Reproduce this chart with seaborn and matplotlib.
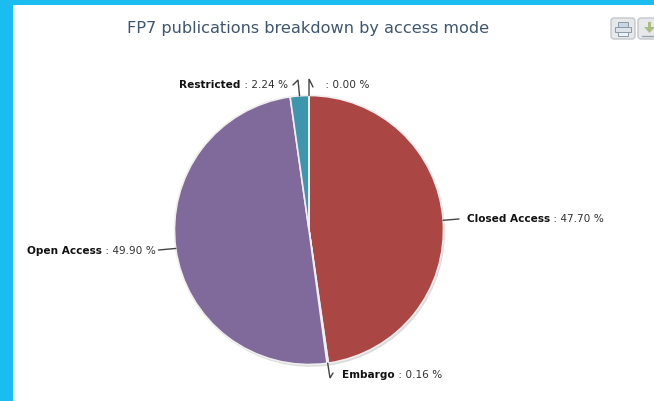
import numpy as np
import matplotlib
matplotlib.use("Agg")
import matplotlib.pyplot as plt
from matplotlib.patches import FancyBboxPatch, Rectangle, Shadow
import seaborn as sns

sns.set_theme(style="white")
plt.rcParams['font.family'] = ['DejaVu Sans']

# values, clockwise from 12 o'clock
categories = ['Closed Access', 'Embargo', 'Open Access', 'Restricted', '']
shares = [47.70, 0.16, 49.90, 2.24, 0.00]
slice_colors = ['#AA4643', '#4572A7', '#80699B', '#3D96AE', '#DB843D']
title = 'FP7 publications breakdown by access mode'

W, H = 654, 401
cx, cy, radius = 309, 230, 134.5

fig = plt.figure(figsize=(W / 100, H / 100), dpi=100, facecolor='white')

# page background frame
bg = fig.add_axes([0, 0, 1, 1])
bg.set_xlim(0, W)
bg.set_ylim(H, 0)
bg.axis('off')
bg.add_patch(Rectangle((0, 0), 13, H, color='#1BBCEF', lw=0))
bg.add_patch(Rectangle((0, 0), W, 5, color='#1BBCEF', lw=0))

# pie
ax = fig.add_axes([(cx - radius) / W, (H - cy - radius) / H, 2 * radius / W, 2 * radius / H])
ax.pie(shares, colors=slice_colors, startangle=90, counterclock=False, radius=1,
       wedgeprops=dict(edgecolor='#EFEFEF', linewidth=1.2),
       shadow=dict(ox=0.008, oy=-0.012, shade=0.5, alpha=0.3))
ax.set_xlim(-1, 1)
ax.set_ylim(-1, 1)
ax.set_aspect('equal')
for w in ax.patches:
    w.set_clip_on(False)
    if isinstance(w, Shadow):
        w.set_facecolor('#888888')
        w.set_edgecolor('none')

# overlay for labels in pixel coordinates
ov = fig.add_axes([0, 0, 1, 1], zorder=5)
ov.set_xlim(0, W)
ov.set_ylim(H, 0)
ov.axis('off')
ov.patch.set_alpha(0)

ov.text(308.5, 29, title, ha='center', va='center', fontsize=11.6, color='#3E576F',
        family='DejaVu Sans')

label_size = 7.6
renderer = fig.canvas.get_renderer()


def draw_label(name, share, x, y, side):
    value = f' : {share:.2f} %'
    if side == 'left':
        t = ov.text(x, y, name, ha='left', va='center', fontsize=label_size,
                    fontweight='bold', color='#111111')
        x1 = t.get_window_extent(renderer).x1 if name else x
        ov.text(x1, y, value, ha='left', va='center', fontsize=label_size, color='#333333')
    else:
        t = ov.text(x, y, value, ha='right', va='center', fontsize=label_size, color='#333333')
        x0 = t.get_window_extent(renderer).x0
        ov.text(x0, y, name, ha='right', va='center', fontsize=label_size,
                fontweight='bold', color='#111111')


# connector elbows and text anchors per slice
layout = [
    ((459, 219), None, (467, 219.5), 'left'),
    ((330, 378), (333, 373), (342, 375), 'left'),
    ((158.5, 250), None, (156, 251), 'right'),
    ((298, 80), (293, 85), (288, 85.5), 'right'),
    ((309, 79), (313, 87), (322, 85.5), 'left'),
]

start = 0.0
for name, share, (elbow, hook, anchor, side) in zip(categories, shares, layout):
    mid = np.deg2rad((start + share / 2) * 3.6)
    start += share
    edge = (cx + radius * np.sin(mid), cy - radius * np.cos(mid))
    xs = [edge[0], elbow[0]]
    ys = [edge[1], elbow[1]]
    if hook:
        xs.append(hook[0])
        ys.append(hook[1])
    ov.plot(xs, ys, color='#444444', lw=1.0, solid_joinstyle='miter')
    draw_label(name, share, anchor[0], anchor[1], side)

# export buttons, second one runs off the edge
for x0 in (611, 638):
    ov.add_patch(FancyBboxPatch((x0, 18), 24, 21, boxstyle='round,pad=0,rounding_size=3',
                                fc='#E6E8EA', ec='#C4C8CC', lw=1.0))
# printer
ov.add_patch(Rectangle((618, 22), 10, 5, fc='#C9D6E4', ec='#8C99A6', lw=0.7))
ov.add_patch(Rectangle((615, 27), 16, 5, fc='#DCE3EA', ec='#8C99A6', lw=0.7))
ov.add_patch(Rectangle((618, 32), 10, 4, fc='#EEF2F6', ec='#8C99A6', lw=0.7))
# download arrow
ov.fill([649.5, 644, 655], [33, 27, 27], color='#A9BF7A', lw=0)
ov.add_patch(Rectangle((648, 22), 3, 6, fc='#A9BF7A', lw=0))
ov.plot([642, 654], [36, 36], color='#99A3AD', lw=1)

fig.savefig('out.png', dpi=100, facecolor='white')
